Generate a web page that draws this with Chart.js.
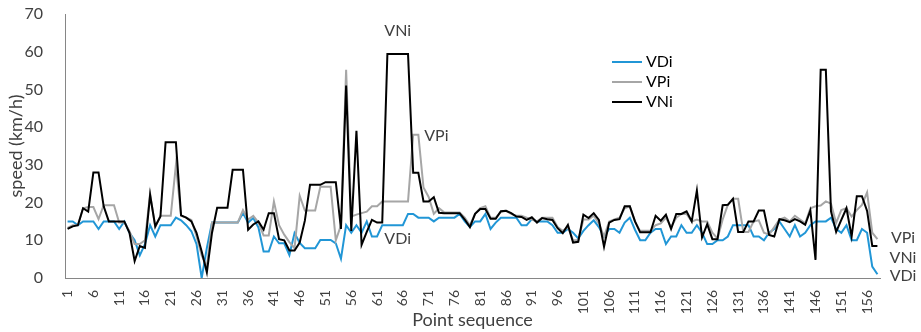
<!DOCTYPE html>
<html>
<head>
<meta charset="utf-8">
<script src="https://cdn.jsdelivr.net/npm/chart.js@4"></script>
<style>
  html, body { margin: 0; padding: 0; background: #fff; }
  #wrap { width: 921px; height: 332px; }
</style>
</head>
<body>
<div id="wrap"><canvas id="speedChart"></canvas></div>
<script>
// point sequence 1..158
const points = Array.from({ length: 158 }, (_, i) => String(i + 1));

const vdi = [
  15, 15, 14, 15, 15, 15, 13, 15, 15, 15, 13, 15, 12, 10, 6, 9, 14, 11, 14, 14,
  14, 16, 15.3, 14, 12.4, 9, 0, 8, 14.7, 14.7, 14.7, 14.7, 14.7, 14.7, 17.2, 14.7, 15.9, 13.4, 7, 7,
  11, 9.2, 9.2, 6.1, 11.9, 9.3, 7.9, 7.9, 7.9, 10.1, 10.1, 10.1, 9.2, 5.1, 14, 12, 14, 12, 15, 11,
  11, 14, 14, 14, 14, 14, 17, 17, 16, 16, 16, 15, 16, 16, 16, 16, 17, 15, 13.5, 15,
  15, 17, 13, 14.7, 16, 16, 16, 16, 14, 14, 15.6, 15, 15, 15, 14, 12, 12, 13, 12, 10.5,
  12.5, 14, 15.3, 13.5, 11, 13, 13, 12, 14.7, 16, 12.8, 10, 10, 12, 13, 13, 9, 11, 11, 14,
  12, 12, 14, 12, 9, 9, 10, 10, 11, 14, 14, 14, 14, 11, 11, 10, 12, 13, 15, 13,
  11, 14, 11, 12, 14, 15, 15, 15, 16, 13, 12, 14, 10, 10, 13, 12, 3, 1
];

const vpi = [
  13.3, 14, 14, 18.5, 18.8, 18.8, 15.6, 19.3, 19.3, 19.3, 14.7, 14.7, 12.4, 9, 9, 10, 22.4, 13.5, 16.5, 16.5,
  16.5, 30, 16.5, 16, 15.4, 11, 6, 3, 14.7, 14.7, 14.7, 14.7, 14.7, 14.7, 18, 15.5, 16.5, 14.7, 11.3, 11.3,
  20.3, 14, 11.5, 9.5, 7.9, 21.8, 17.9, 17.9, 17.9, 24.2, 24.2, 24.2, 10, 14, 55.2, 16.3, 16.8, 17.2, 17.6, 19,
  19, 20.3, 20.3, 20.3, 20.3, 20.3, 20.3, 38, 38, 24, 21.5, 17, 18.5, 17.4, 17.4, 17.4, 17.4, 16, 14, 17,
  18.5, 19, 16, 16, 17.5, 17.8, 17, 16.5, 16.5, 16, 15.5, 15, 16, 16, 16, 13.5, 12.5, 13.5, 10, 10,
  15.5, 15.5, 16.5, 14.5, 11, 15, 15.5, 16, 18.5, 19, 15, 12.5, 12.5, 12.5, 14, 14.5, 16, 13.5, 16, 17,
  17, 15, 15.5, 15, 15, 12, 10.5, 15.5, 19.4, 21, 21, 12.2, 12.2, 15, 15.3, 12, 11.5, 13.5, 15.5, 16,
  15, 16.5, 15.5, 14.5, 18.5, 19, 19.2, 20.3, 19.7, 14.6, 18, 18.5, 16.3, 18, 19.4, 22.7, 12, 10.3
];

const vni = [
  13, 13.7, 14, 18.5, 17.6, 28, 28, 19, 15, 15, 15, 15, 12, 4.5, 8.5, 8, 22, 13.7, 16.3, 36,
  36, 36, 16.6, 16, 15, 12, 7, 1.5, 12, 18.6, 18.6, 18.6, 28.7, 28.7, 28.7, 12.8, 14.2, 15, 12.8, 17.2,
  17.2, 10.3, 10, 7.3, 7.3, 9.4, 15.2, 24.7, 24.7, 24.7, 25.4, 25.4, 25.4, 13, 51, 12.5, 39, 8.8, 12.2, 15.4,
  14.7, 14.7, 59.4, 59.4, 59.4, 59.4, 59.4, 27.9, 27.9, 20.3, 20.3, 21.4, 17.3, 17.2, 17.2, 17.2, 17.2, 15.5, 13.5, 17,
  18.3, 18.3, 15.7, 15.7, 17.7, 17.8, 17.2, 16.3, 16.2, 15.4, 16.1, 14.7, 15.9, 15.6, 15.4, 13.2, 11.9, 14.1, 9.4, 9.6,
  16.8, 15.9, 17.2, 15.4, 8.3, 14.7, 15.4, 15.6, 19, 19, 15, 12.1, 12.1, 12.1, 16.5, 15.2, 16.8, 13, 17, 17,
  17.7, 15, 23.2, 10.8, 14.3, 10.3, 10.3, 19.3, 19.4, 21, 12.2, 12.2, 15, 15, 17.9, 17.9, 11.4, 11, 15.6, 15.3,
  14.8, 15.6, 15, 14.1, 17.9, 4.8, 55.2, 55.2, 17.7, 12.2, 15.4, 18.5, 11, 21.7, 21.7, 17.8, 8.5, 8.5
];

const yTicks = [0, 10, 20, 30, 40, 50, 60, 70];

const FONT = "Lato, 'Open Sans', sans-serif";
const textGray = "#404040";

// legend + in-chart labels, drawn on top
const labelsPlugin = {
  id: "speedLabels",
  afterDraw(chart) {
    const { ctx, chartArea, scales } = chart;
    const x = scales.x;
    const y = scales.y;
    ctx.save();
    ctx.font = "16px " + FONT;
    ctx.textBaseline = "middle";

    // legend
    const legendItems = [
      ["VDi", "rgb(33,150,214)"],
      ["VPi", "rgb(166,166,166)"],
      ["VNi", "#000"],
    ];
    legendItems.forEach(([name, color], i) => {
      const ly = 62 + i * 20;
      ctx.strokeStyle = color;
      ctx.lineWidth = 2;
      ctx.beginPath();
      ctx.moveTo(612, ly);
      ctx.lineTo(642, ly);
      ctx.stroke();
      ctx.fillStyle = "#000";
      ctx.textAlign = "left";
      ctx.fillText(name, 646, ly);
    });

    // labels inside the plot
    ctx.fillStyle = textGray;
    ctx.textAlign = "center";
    ctx.fillText("VNi", x.getPixelForValue(64), y.getPixelForValue(65.5));
    ctx.fillText("VPi", x.getPixelForValue(71.5), y.getPixelForValue(37.8));
    ctx.fillText("VDi", x.getPixelForValue(64), y.getPixelForValue(10.3));

    // labels at the right end
    const rx = chartArea.right + 23;
    ctx.fillText("VPi", rx, y.getPixelForValue(10.7));
    ctx.fillText("VNi", rx, y.getPixelForValue(5.4));
    ctx.fillText("VDi", rx, y.getPixelForValue(0.6));
    ctx.restore();
  },
};

const ctxSpeed = document.getElementById("speedChart").getContext("2d");
const speedChart = new Chart(ctxSpeed, {
  type: "line",
  data: {
    labels: points,
    datasets: [
      {
        label: "VDi",
        data: vdi,
        borderColor: "rgb(33,150,214)",
        borderWidth: 2,
        pointRadius: 0,
        tension: 0,
        order: 2,
      },
      {
        label: "VPi",
        data: vpi,
        borderColor: "rgb(166,166,166)",
        borderWidth: 2,
        pointRadius: 0,
        tension: 0,
        order: 1,
      },
      {
        label: "VNi",
        data: vni,
        borderColor: "#000",
        borderWidth: 2,
        pointRadius: 0,
        tension: 0,
        order: 0,
      },
    ],
  },
  options: {
    responsive: true,
    maintainAspectRatio: false,
    animation: false,
    layout: {
      padding: { left: 0, right: 41, top: 14, bottom: 0 },
    },
    scales: {
      x: {
        type: "category",
        offset: true,
        grid: { display: false },
        border: { display: true, color: "#868686", width: 1 },
        ticks: {
          autoSkip: false,
          maxRotation: 90,
          minRotation: 90,
          padding: 4,
          color: "#404040",
          font: { family: FONT, size: 14 },
          callback: function (value, index) {
            return index % 5 === 0 ? points[index] : "";
          },
        },
        title: {
          display: true,
          text: "Point sequence",
          color: "#404040",
          font: { family: FONT, size: 18 },
          padding: { top: 0, bottom: 1 },
        },
        afterFit(scale) {
          scale.height = 54;
          scale.paddingLeft = 0;
          scale.paddingRight = 0;
        },
      },
      y: {
        min: 0,
        max: 70,
        grid: { display: false },
        border: { display: true, color: "#868686", width: 1 },
        ticks: {
          stepSize: 10,
          padding: 14,
          color: "#404040",
          font: { family: FONT, size: 16 },
          callback: function (value) {
            return yTicks.includes(value) ? value : "";
          },
        },
        title: {
          display: true,
          text: "speed (km/h)",
          color: "#404040",
          font: { family: FONT, size: 18 },
          padding: { top: 5, bottom: 0 },
        },
        afterFit(scale) {
          scale.width = 65;
          scale.paddingTop = 0;
          scale.paddingBottom = 0;
        },
      },
    },
    plugins: {
      legend: { display: false },
      tooltip: { enabled: false },
    },
  },
  plugins: [labelsPlugin],
});
</script>
</body>
</html>
